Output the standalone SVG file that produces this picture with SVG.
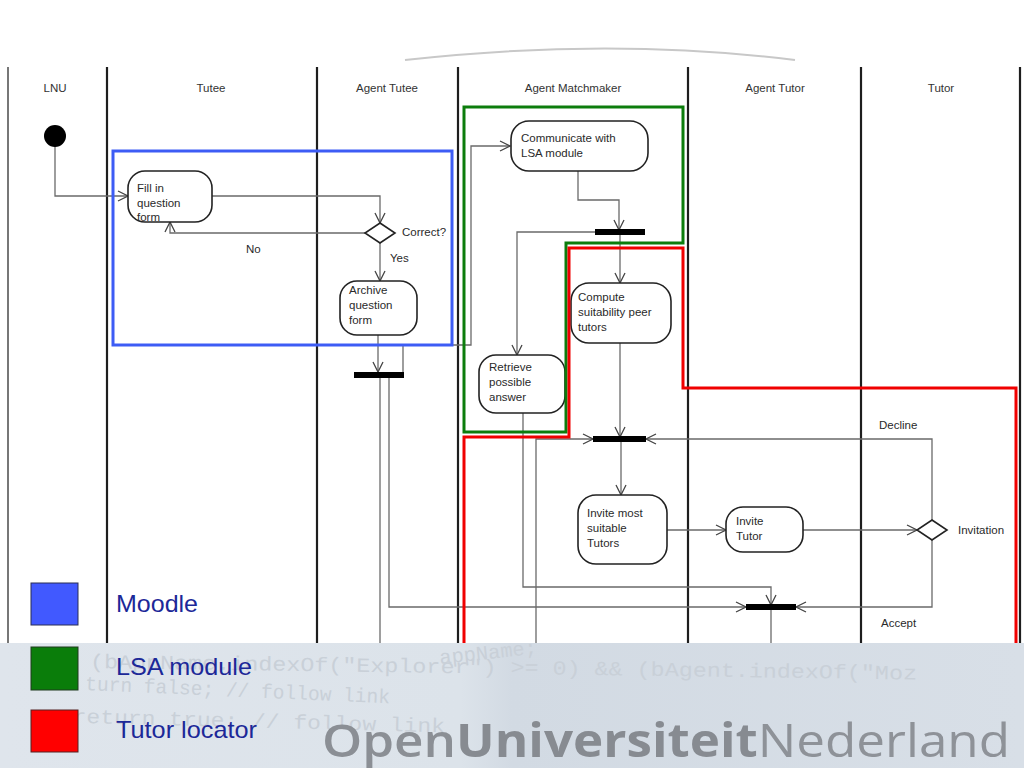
<svg xmlns="http://www.w3.org/2000/svg" width="1024" height="768" viewBox="0 0 1024 768">
<defs>
<style>
.lane{stroke:#1e1e1e;stroke-width:2.2;fill:none}
.hdr{font-family:"Liberation Sans",Arial,sans-serif;font-size:11.5px;fill:#333;text-anchor:middle}
.t{font-family:"Liberation Sans",Arial,sans-serif;font-size:11.5px;fill:#2a2a2a}
.node{fill:#fff;stroke:#222;stroke-width:1.6}
.c{fill:none;stroke:#6a6a6a;stroke-width:1.3}
.ca{fill:none;stroke:#6a6a6a;stroke-width:1.3;marker-end:url(#arr)}
.bar{fill:#000}
.leg{font-family:"Liberation Sans",Arial,sans-serif;font-size:24px;fill:#1c2898}
.wm{font-family:"Liberation Mono","DejaVu Sans Mono",monospace;font-size:20px;fill:#c9d0d8}
</style>
<marker id="arr" viewBox="0 0 12 12" refX="11" refY="6" markerWidth="12" markerHeight="12" markerUnits="userSpaceOnUse" orient="auto">
<path d="M1,1 L11,6 L1,11" fill="none" stroke="#444" stroke-width="1.3"/>
</marker>
<linearGradient id="bg" x1="0" y1="0" x2="1" y2="0">
<stop offset="0" stop-color="#dfe5ec"/>
<stop offset="0.45" stop-color="#dce3ea"/>
<stop offset="0.5" stop-color="#d2dae3"/>
<stop offset="1" stop-color="#d8dfe7"/>
</linearGradient>
</defs>
<rect x="0" y="0" width="1024" height="768" fill="#fff"/>
<path d="M405,60 Q610,37 795,60" fill="none" stroke="#c8c8c8" stroke-width="2"/>

<g id="lanes">
<line class="lane" x1="8" y1="67" x2="8" y2="643" style="stroke:#555;stroke-width:1.6"/>
<line class="lane" x1="107" y1="67" x2="107" y2="643"/>
<line class="lane" x1="317" y1="67" x2="317" y2="643"/>
<line class="lane" x1="458" y1="67" x2="458" y2="643"/>
<line class="lane" x1="688" y1="67" x2="688" y2="643"/>
<line class="lane" x1="861" y1="67" x2="861" y2="643"/>
<line class="lane" x1="1020" y1="67" x2="1020" y2="643"/>
<text class="hdr" x="55" y="92">LNU</text>
<text class="hdr" x="211" y="92">Tutee</text>
<text class="hdr" x="387" y="92">Agent Tutee</text>
<text class="hdr" x="573" y="92">Agent Matchmaker</text>
<text class="hdr" x="775" y="92">Agent Tutor</text>
<text class="hdr" x="941" y="92">Tutor</text>
</g>

<g id="connectors">
<path class="ca" d="M55,146 V196 H128"/>
<path class="ca" d="M212,196 H380 V223"/>
<path class="ca" d="M366,233 H170 V222"/>
<path class="ca" d="M380,243 V281"/>
<path class="ca" d="M378,335 V372"/>
<path class="ca" d="M403,375 V345 H471 V146 H510"/>
<path class="c" d="M380,377 V643"/>
<path class="ca" d="M389,377 V607 H746"/>
<path class="ca" d="M578,171 V200 H619 V230"/>
<path class="ca" d="M595,232 H517 V355"/>
<path class="ca" d="M620,234 V283"/>
<path class="ca" d="M620,343 V437"/>
<path class="ca" d="M536,643 V439 H593"/>
<path class="ca" d="M523,413 V587 H771 V605"/>
<path class="ca" d="M621,441 V495"/>
<path class="ca" d="M667,530 H726"/>
<path class="ca" d="M803,530 H917"/>
<path class="ca" d="M932,520 V439 H646"/>
<path class="ca" d="M932,540 V607 H796"/>
<path class="c" d="M771,609 V643"/>
</g>

<g id="start"><circle cx="55" cy="136" r="11" fill="#000"/></g>

<g id="fill-in">
<rect class="node" x="128" y="171" width="84" height="51" rx="17" ry="17"/>
<text class="t" x="137" y="192">Fill in</text>
<text class="t" x="137" y="207">question</text>
<text class="t" x="137" y="221">form</text>
</g>

<g id="correct">
<polygon class="node" points="380,223 395,233 380,243 365,233"/>
<text class="t" x="402" y="236">Correct?</text>
<text class="t" x="246" y="253">No</text>
<text class="t" x="390" y="262">Yes</text>
</g>

<g id="archive">
<rect class="node" x="340" y="281" width="77" height="54" rx="17" ry="17"/>
<text class="t" x="349" y="294">Archive</text>
<text class="t" x="349" y="309">question</text>
<text class="t" x="349" y="324">form</text>
</g>

<g id="fork1"><rect class="bar" x="354" y="372" width="50" height="6"/></g>

<g id="communicate">
<rect class="node" x="511" y="121" width="137" height="50" rx="18" ry="18"/>
<text class="t" x="521" y="142">Communicate with</text>
<text class="t" x="521" y="157">LSA module</text>
</g>

<g id="fork2"><rect class="bar" x="595" y="229" width="50" height="6"/></g>

<g id="compute">
<rect class="node" x="571" y="283" width="100" height="60" rx="18" ry="18"/>
<text class="t" x="578" y="301">Compute</text>
<text class="t" x="578" y="316">suitability peer</text>
<text class="t" x="578" y="331">tutors</text>
</g>

<g id="retrieve">
<rect class="node" x="479" y="355" width="86" height="58" rx="17" ry="17"/>
<text class="t" x="489" y="371">Retrieve</text>
<text class="t" x="489" y="386">possible</text>
<text class="t" x="489" y="401">answer</text>
</g>

<g id="fork3"><rect class="bar" x="593" y="436" width="53" height="6"/></g>

<g id="invite-most">
<rect class="node" x="578" y="495" width="89" height="69" rx="18" ry="18"/>
<text class="t" x="587" y="517">Invite most</text>
<text class="t" x="587" y="532">suitable</text>
<text class="t" x="587" y="547">Tutors</text>
</g>

<g id="invite-tutor">
<rect class="node" x="726" y="507" width="77" height="45" rx="17" ry="17"/>
<text class="t" x="736" y="525">Invite</text>
<text class="t" x="736" y="540">Tutor</text>
</g>

<g id="invitation">
<polygon class="node" points="932,520 947,530 932,540 917,530"/>
<text class="t" x="958" y="534">Invitation</text>
<text class="t" x="879" y="429">Decline</text>
<text class="t" x="881" y="627">Accept</text>
</g>

<g id="fork4"><rect class="bar" x="746" y="604" width="50" height="6"/></g>

<g id="regions" fill="none">
<rect x="113" y="151" width="339" height="194" stroke="#3d5cf5" stroke-width="3"/>
<path d="M464,107 H683 V243 H566 V432 H464 Z" stroke="#0c7d0c" stroke-width="3"/>
<path d="M464,643 V437 H569 V248 H683 V388 H1016 V643" stroke="#f00000" stroke-width="3"/>
</g>

<g id="banner">
<rect x="0" y="643" width="1024" height="125" fill="url(#bg)"/>
<text class="wm" x="90" y="668" transform="rotate(0.8 90 668)" textLength="827" lengthAdjust="spacingAndGlyphs">(bAppName.indexOf("Explorer") &gt;= 0) &amp;&amp; (bAgent.indexOf("Moz</text>
<text class="wm" x="440" y="664" transform="rotate(-6 440 664)" textLength="98" lengthAdjust="spacingAndGlyphs">appName;</text>
<text class="wm" x="85" y="690" transform="rotate(2.5 85 690)" textLength="305" lengthAdjust="spacingAndGlyphs">turn false; // follow link</text>
<text class="wm" x="45" y="722" transform="rotate(1.5 45 722)" textLength="400" lengthAdjust="spacingAndGlyphs">e return true; // follow link</text>
<text x="322" y="757" textLength="688" lengthAdjust="spacingAndGlyphs" font-family="'Open Sans','DejaVu Sans',sans-serif" font-size="46" fill="#8b8f95"><tspan font-weight="600">Open</tspan><tspan font-weight="700" fill="#878b91">Universiteit</tspan><tspan font-weight="400" fill="#8e9298">Nederland</tspan></text>
</g>

<g id="legend">
<rect x="31" y="583" width="47" height="42" fill="#4159ff" stroke="#2a2f55" stroke-width="1"/>
<text class="leg" x="116" y="612" textLength="82" lengthAdjust="spacingAndGlyphs">Moodle</text>
<rect x="31" y="647" width="47" height="43" fill="#0a7d0a" stroke="#1f3a1f" stroke-width="1"/>
<text class="leg" x="116" y="675" textLength="136" lengthAdjust="spacingAndGlyphs">LSA module</text>
<rect x="31" y="710" width="47" height="42" fill="#ff0000" stroke="#552222" stroke-width="1"/>
<text class="leg" x="116" y="738" textLength="141" lengthAdjust="spacingAndGlyphs">Tutor locator</text>
</g>
</svg>
